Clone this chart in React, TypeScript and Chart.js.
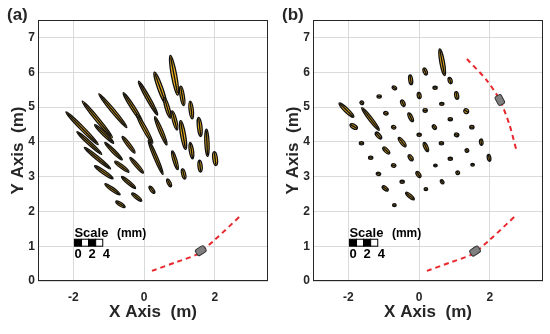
import React, { useEffect, useRef } from 'react';
import { Chart, registerables } from 'chart.js';

Chart.register(...registerables);

const FONT = "'Liberation Sans', Arial, Helvetica, sans-serif";
const INK = '#262626';

const xTickValues = [-2, 0, 2];
const yTickValues = [0, 1, 2, 3, 4, 5, 6, 7];
const xLimits = [-3, 3.5];
const yLimits = [0, 7.5];

// error ellipses: [x1, y1, x2, y2, halfWidth] — major-axis end points and semi-minor axis, metres
const ellipsesA: number[][] = [
  [-2.21, 4.86, -1.3, 3.92, 0.055],
  [-1.9, 4.29, -1.2, 3.64, 0.05],
  [-1.69, 3.84, -0.95, 3.22, 0.05],
  [-1.4, 3.31, -0.88, 2.94, 0.05],
  [-1.11, 2.79, -0.68, 2.48, 0.05],
  [-0.8, 2.29, -0.54, 2.12, 0.05],
  [-1.75, 5.17, -0.9, 4.12, 0.055],
  [-1.4, 4.49, -0.86, 3.96, 0.05],
  [-1.11, 3.98, -0.62, 3.48, 0.05],
  [-0.83, 3.44, -0.43, 3.13, 0.05],
  [-0.64, 3.0, -0.24, 2.66, 0.05],
  [-0.35, 2.52, -0.07, 2.3, 0.05],
  [-1.28, 5.38, -0.49, 4.41, 0.055],
  [-0.62, 4.15, -0.26, 3.68, 0.05],
  [-0.4, 3.55, -0.02, 3.1, 0.05],
  [0.15, 2.72, 0.29, 2.52, 0.05],
  [-0.59, 5.41, -0.05, 4.56, 0.055],
  [-0.21, 4.79, 0.24, 3.96, 0.055],
  [0.12, 4.05, 0.53, 3.06, 0.05],
  [0.65, 2.93, 0.76, 2.71, 0.05],
  [-0.16, 5.74, 0.38, 4.77, 0.055],
  [0.3, 4.72, 0.64, 3.91, 0.055],
  [0.79, 3.74, 0.95, 3.2, 0.055],
  [1.08, 3.22, 1.15, 2.93, 0.055],
  [0.29, 6.0, 0.61, 5.1, 0.07],
  [0.57, 5.27, 0.74, 4.68, 0.06],
  [0.79, 4.89, 0.93, 4.34, 0.06],
  [1.03, 4.61, 1.17, 3.78, 0.07],
  [1.3, 3.98, 1.37, 3.51, 0.06],
  [1.56, 3.47, 1.6, 3.13, 0.06],
  [0.74, 6.48, 0.95, 5.34, 0.075],
  [1.03, 5.6, 1.12, 5.04, 0.06],
  [1.3, 5.17, 1.36, 4.66, 0.06],
  [1.54, 4.7, 1.6, 4.15, 0.065],
  [1.76, 4.36, 1.79, 3.58, 0.06],
  [1.98, 3.72, 2.03, 3.32, 0.065],
];

const ellipsesB: number[][] = [
  [0.58, 6.67, 0.72, 5.9, 0.065],
  [0.13, 6.12, 0.21, 5.92, 0.055],
  [-0.26, 5.92, -0.22, 5.64, 0.055],
  [0.85, 5.85, 0.9, 5.67, 0.055],
  [-0.76, 5.58, -0.64, 5.52, 0.05],
  [0.39, 5.55, 0.51, 5.55, 0.045],
  [-0.02, 5.42, 0.02, 5.24, 0.055],
  [1.04, 5.44, 1.08, 5.22, 0.055],
  [-1.19, 5.3, -1.07, 5.3, 0.045],
  [-1.66, 5.16, -1.58, 5.08, 0.05],
  [-0.5, 5.2, -0.42, 5.02, 0.055],
  [0.58, 5.09, 0.7, 5.09, 0.045],
  [1.27, 4.92, 1.39, 4.84, 0.065],
  [0.11, 4.9, 0.23, 4.9, 0.05],
  [-1.0, 4.84, -0.88, 4.8, 0.05],
  [-2.26, 5.11, -1.85, 4.71, 0.06],
  [-1.62, 4.98, -1.13, 4.33, 0.055],
  [-0.3, 4.83, -0.18, 4.58, 0.055],
  [0.82, 4.65, 0.94, 4.65, 0.045],
  [0.39, 4.48, 0.47, 4.36, 0.05],
  [-0.78, 4.44, -0.66, 4.4, 0.05],
  [-1.95, 4.5, -1.75, 4.38, 0.06],
  [1.43, 4.42, 1.55, 4.42, 0.05],
  [-0.06, 4.2, 0.06, 4.2, 0.045],
  [-1.23, 4.27, -1.07, 4.09, 0.055],
  [1.0, 4.22, 1.12, 4.18, 0.05],
  [-1.69, 3.96, -1.57, 3.96, 0.045],
  [-0.58, 4.12, -0.38, 3.86, 0.055],
  [0.57, 3.96, 0.69, 3.96, 0.045],
  [1.74, 4.08, 1.77, 3.9, 0.05],
  [0.13, 3.98, 0.25, 3.72, 0.055],
  [-1.02, 3.84, -0.84, 3.66, 0.055],
  [1.33, 3.8, 1.37, 3.7, 0.05],
  [-1.43, 3.54, -1.31, 3.54, 0.045],
  [-0.3, 3.62, -0.18, 3.46, 0.055],
  [0.82, 3.51, 0.94, 3.51, 0.045],
  [1.96, 3.64, 1.99, 3.44, 0.05],
  [0.41, 3.32, 0.51, 3.32, 0.04],
  [-0.78, 3.34, -0.66, 3.3, 0.05],
  [1.46, 3.34, 1.56, 3.34, 0.04],
  [-1.21, 3.1, -1.09, 3.06, 0.045],
  [-0.08, 3.14, 0.04, 2.98, 0.055],
  [1.07, 3.16, 1.11, 3.06, 0.05],
  [-0.54, 2.85, -0.42, 2.85, 0.045],
  [0.61, 2.9, 0.69, 2.8, 0.045],
  [-1.04, 2.72, -0.88, 2.6, 0.05],
  [-0.38, 2.54, -0.14, 2.34, 0.05],
  [0.14, 2.64, 0.24, 2.64, 0.04],
  [-0.75, 2.18, -0.65, 2.18, 0.04],
];

const sensorPathLower = [[0.22, 0.29], [0.93, 0.55], [1.5, 0.77], [1.98, 1.17], [2.74, 1.89]];
const sensorPathUpper = [[1.35, 6.38], [1.9, 5.78], [2.28, 5.2], [2.55, 4.5], [2.75, 3.75]];
// sensor markers: [x, y, heading deg]
const sensorsA = [[1.6, 0.87, 32]];
const sensorsB = [[1.58, 0.86, 35], [2.28, 5.2, -62]];

// scale bar (data coordinates)
const scaleBarLefts = [-1.97, -1.77, -1.57, -1.37];
const scaleBarWidth = 0.2;
const scaleBarFills = ['#000000', '#ffffff', '#000000', '#ffffff'];
const scaleBarY = [1.0, 1.2];
const scaleLabels = ['0', '2', '4'];
const scaleLabelX = [-1.97, -1.57, -1.17];
const scaleLabelY = 0.66;
const scaleTitle = 'Scale';
const scaleUnit = '(mm)';
const scaleTitleX = [-1.97, -0.77];
const scaleTitleY = 1.26;

function makeOverlay(label: string, ellipses: number[][], sensors: number[][]) {
  return {
    id: 'overlay',
    afterDatasetsDraw(chart: any) {
      const { ctx, chartArea: ca } = chart;
      const xs = chart.scales.x;
      const ys = chart.scales.y;
      const px = (v: number) => xs.getPixelForValue(v);
      const py = (v: number) => ys.getPixelForValue(v);
      const ppu = Math.abs(px(1) - px(0));
      ctx.save();
      ctx.beginPath();
      ctx.rect(ca.left, ca.top, ca.right - ca.left, ca.bottom - ca.top);
      ctx.clip();
      ellipses.forEach(([x1, y1, x2, y2, hw]) => {
        const ax = px(x1), ay = py(y1), bx = px(x2), by = py(y2);
        const cx = (ax + bx) / 2, cy = (ay + by) / 2;
        const r = Math.max(hw * ppu, 1.2);
        const L = Math.max(Math.hypot(bx - ax, by - ay) / 2, r);
        const ang = Math.atan2(by - ay, bx - ax);
        ctx.beginPath();
        ctx.ellipse(cx, cy, L, r, ang, 0, Math.PI * 2);
        ctx.fillStyle = '#EDB120';
        ctx.fill();
        ctx.lineWidth = 1.3;
        ctx.strokeStyle = '#111111';
        ctx.stroke();
        const c = Math.cos(ang), s = Math.sin(ang);
        ctx.beginPath();
        ctx.moveTo(cx - c * L * 0.9, cy - s * L * 0.9);
        ctx.lineTo(cx + c * L * 0.9, cy + s * L * 0.9);
        ctx.lineWidth = 1.4;
        ctx.stroke();
      });
      sensors.forEach(([sx, sy, deg]) => {
        ctx.save();
        ctx.translate(px(sx), py(sy));
        ctx.rotate((-deg * Math.PI) / 180);
        ctx.beginPath();
        if (ctx.roundRect) ctx.roundRect(-5, -3.5, 10, 7, 2);
        else ctx.rect(-5, -3.5, 10, 7);
        ctx.fillStyle = '#808080';
        ctx.fill();
        ctx.strokeStyle = '#333333';
        ctx.lineWidth = 1;
        ctx.stroke();
        ctx.restore();
      });
      // scale bar
      scaleBarLefts.forEach((bx, i) => {
        const l = px(bx), rgt = px(bx + scaleBarWidth);
        const t = py(scaleBarY[1]), b = py(scaleBarY[0]);
        ctx.fillStyle = scaleBarFills[i];
        ctx.fillRect(l, t, rgt - l, b - t);
        ctx.strokeStyle = '#000000';
        ctx.lineWidth = 1;
        ctx.strokeRect(l, t, rgt - l, b - t);
      });
      ctx.fillStyle = '#000000';
      ctx.textBaseline = 'alphabetic';
      ctx.textAlign = 'left';
      ctx.font = `bold 13px ${FONT}`;
      ctx.fillText(scaleTitle, px(scaleTitleX[0]), py(scaleTitleY));
      ctx.font = `bold 12px ${FONT}`;
      ctx.fillText(scaleUnit, px(scaleTitleX[1]), py(scaleTitleY));
      ctx.font = `bold 13px ${FONT}`;
      scaleLabels.forEach((t, i) => ctx.fillText(t, px(scaleLabelX[i]), py(scaleLabelY)));
      ctx.restore();
    },
    afterDraw(chart: any) {
      const { ctx, chartArea: ca } = chart;
      ctx.save();
      ctx.strokeStyle = INK;
      ctx.lineWidth = 1;
      ctx.strokeRect(ca.left + 0.5, ca.top + 0.5, ca.right - ca.left - 1, ca.bottom - ca.top - 1);
      ctx.fillStyle = INK;
      ctx.font = `bold 17px ${FONT}`;
      ctx.textAlign = 'left';
      ctx.textBaseline = 'alphabetic';
      ctx.fillText(label, 7, 20);
      ctx.restore();
    },
  };
}

function Panel({ label, ellipses, paths, sensors }: { label: string; ellipses: number[][]; paths: number[][][]; sensors: number[][] }) {
  const ref = useRef<HTMLCanvasElement>(null);
  useEffect(() => {
    const tickFont = { family: FONT, size: 12, weight: 'bold' as const };
    const titleFont = { family: FONT, size: 17, weight: 'bold' as const };
    const chart = new Chart(ref.current as HTMLCanvasElement, {
      type: 'scatter',
      data: {
        datasets: [
          ...paths.map((p) => ({
            data: p.map(([x, y]) => ({ x, y })),
            showLine: true,
            borderColor: '#E8262B',
            borderWidth: 2,
            borderDash: [5, 4],
            pointRadius: 0,
            tension: 0.25,
            fill: false,
          })),
          {
            data: ellipses.map((e) => ({ x: (e[0] + e[2]) / 2, y: (e[1] + e[3]) / 2 })),
            pointRadius: 0,
            showLine: false,
          },
        ],
      },
      options: {
        responsive: false,
        animation: false,
        devicePixelRatio: 1,
        layout: { padding: { top: 20, right: 7, left: 0, bottom: 0 } },
        plugins: { legend: { display: false }, tooltip: { enabled: false } },
        scales: {
          x: {
            type: 'linear',
            min: xLimits[0],
            max: xLimits[1],
            afterBuildTicks: (s: any) => {
              s.ticks = xTickValues.map((v) => ({ value: v }));
            },
            afterFit: (s: any) => {
              s.height = 53;
            },
            ticks: { font: tickFont, color: INK, padding: 9 },
            grid: { color: '#dadada', drawTicks: false },
            border: { display: false },
            title: { display: true, text: 'X Axis  (m)', font: titleFont, color: INK, padding: { top: 0, bottom: 11 } },
          },
          y: {
            type: 'linear',
            min: yLimits[0],
            max: yLimits[1],
            afterBuildTicks: (s: any) => {
              s.ticks = yTickValues.map((v) => ({ value: v }));
            },
            afterFit: (s: any) => {
              s.width = 38;
            },
            ticks: { font: tickFont, color: INK, padding: 3 },
            grid: { color: '#dadada', drawTicks: false },
            border: { display: false },
            title: { display: true, text: 'Y Axis  (m)', font: titleFont, color: INK, padding: { top: 8, bottom: 0 } },
          },
        },
      } as any,
      plugins: [makeOverlay(label, ellipses, sensors)],
    });
    return () => chart.destroy();
  }, []);
  return <canvas ref={ref} width={275} height={334} style={{ display: 'block', width: 275, height: 334 }} />;
}

export default function App() {
  return (
    <div style={{ position: 'fixed', left: 0, top: 0, width: 550, height: 334, display: 'flex', background: '#ffffff' }}>
      <Panel label="(a)" ellipses={ellipsesA} paths={[sensorPathLower]} sensors={sensorsA} />
      <Panel label="(b)" ellipses={ellipsesB} paths={[sensorPathLower, sensorPathUpper]} sensors={sensorsB} />
    </div>
  );
}
